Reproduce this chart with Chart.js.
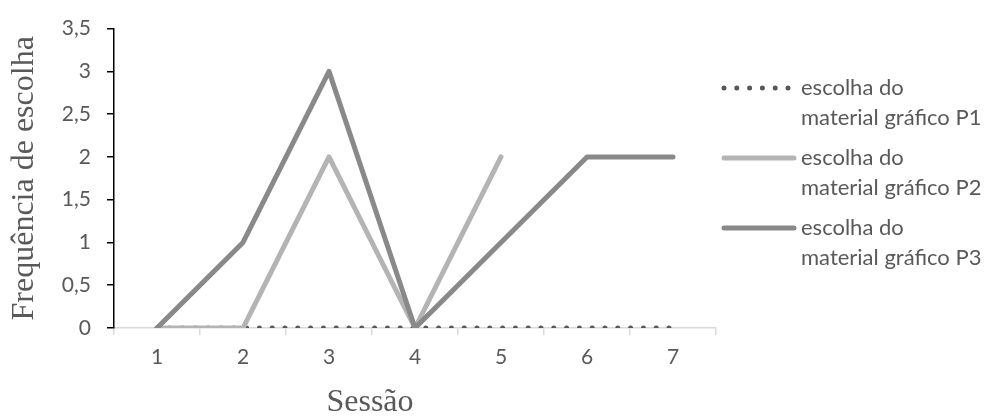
<!DOCTYPE html>
<html>
<head>
<meta charset="utf-8">
<title>Frequência de escolha por sessão</title>
<script src="https://cdn.jsdelivr.net/npm/chart.js@4.4.1/dist/chart.umd.min.js"></script>
<style>
  body { margin: 0; background: #fff; }
  #wrap { width: 989px; height: 419px; }
</style>
</head>
<body>
<div id="wrap"><canvas id="grafico"></canvas></div>
<script>
// dados
let sessoes = ["1", "2", "3", "4", "5", "6", "7"];
let escolhaP1 = [0, 0, 0, 0, 0, 0, 0];
let escolhaP2 = [0, 0, 2, 0, 2, null, null];
let escolhaP3 = [0, 1, 3, 0, 1, 2, 2];
let nomesSeries = [
    ["escolha do", "material gráfico P1"],
    ["escolha do", "material gráfico P2"],
    ["escolha do", "material gráfico P3"]
];
let yMin = 0;
let yMax = 3.5;
let yStep = 0.5;
let tituloX = "Sessão";
let tituloY = "Frequência de escolha";

let cinzaTexto = "#595959";
let corP1 = "#575757";
let corP2 = "#b4b4b4";
let corP3 = "#898989";

// legenda ao lado direito (texto em duas linhas) e titulo do eixo x
const legendaLateral = {
    id: 'legendaLateral',
    afterDraw(chart) {
        const ctx = chart.ctx;
        ctx.save();
        ctx.textBaseline = 'middle';
        ctx.fillStyle = cinzaTexto;
        chart.data.datasets.forEach((ds, i) => {
            let y = 88 + i * 70;
            ctx.strokeStyle = ds.borderColor;
            ctx.lineWidth = ds.borderWidth;
            ctx.lineCap = 'round';
            ctx.setLineDash(ds.borderDash || []);
            ctx.beginPath();
            ctx.moveTo(724, y);
            ctx.lineTo(794, y);
            ctx.stroke();
            ctx.setLineDash([]);
            ctx.font = '22px Lato';
            nomesSeries[i].forEach((linha, k) => {
                ctx.fillText(linha, 801, y + k * 30);
            });
        });
        // titulo do eixo x (nao fica centrado na area do grafico)
        ctx.font = '32px "Liberation Serif"';
        ctx.textAlign = 'center';
        ctx.fillText(chart.options.scales.x.title.text, 370, 403);
        ctx.restore();
    }
};

let ctx = document.getElementById('grafico').getContext('2d');
let grafico = new Chart(ctx, {
    type: 'line',
    data: {
        labels: sessoes,
        datasets: [{
            label: nomesSeries[0].join(' '),
            data: escolhaP1,
            borderColor: corP1,
            borderWidth: 5,
            borderDash: [0, 12.8],
            borderCapStyle: 'round',
            order: 3
        }, {
            label: nomesSeries[1].join(' '),
            data: escolhaP2,
            borderColor: corP2,
            borderWidth: 5,
            borderCapStyle: 'round',
            order: 2
        }, {
            label: nomesSeries[2].join(' '),
            data: escolhaP3,
            borderColor: corP3,
            borderWidth: 5,
            borderCapStyle: 'round',
            order: 1
        }]
    },
    options: {
        responsive: true,
        maintainAspectRatio: false,
        animation: false,
        spanGaps: false,
        elements: {
            point: { radius: 0, hoverRadius: 0 },
            line: { tension: 0, borderJoinStyle: 'round' }
        },
        layout: {
            padding: { left: 0, top: 22, right: 273, bottom: 0 }
        },
        plugins: {
            legend: { display: false },
            tooltip: { enabled: false }
        },
        scales: {
            x: {
                offset: true,
                afterFit: (scale) => { scale.height = 91; },
                grid: {
                    offset: true,
                    drawOnChartArea: false,
                    color: '#d9d9d9',
                    lineWidth: 1.5,
                    tickLength: 7
                },
                border: { color: '#d9d9d9', width: 1.5 },
                ticks: {
                    color: cinzaTexto,
                    font: { family: 'Lato', size: 21 },
                    padding: 10,
                    maxRotation: 0
                },
                title: { display: false, text: tituloX }
            },
            y: {
                min: yMin,
                max: yMax,
                afterFit: (scale) => { scale.width = 114; },
                grid: {
                    drawOnChartArea: false,
                    color: '#000',
                    lineWidth: 1.5,
                    tickLength: 7
                },
                border: { color: '#000', width: 1.5 },
                ticks: {
                    stepSize: yStep,
                    color: cinzaTexto,
                    font: { family: 'Lato', size: 21 },
                    padding: 16,
                    callback: (v) => String(v).replace('.', ',')
                },
                title: {
                    display: true,
                    text: tituloY,
                    color: cinzaTexto,
                    font: { family: 'Liberation Serif', size: 32 },
                    padding: { top: 5, bottom: 0 }
                }
            }
        }
    },
    plugins: [legendaLateral]
});
</script>
</body>
</html>
